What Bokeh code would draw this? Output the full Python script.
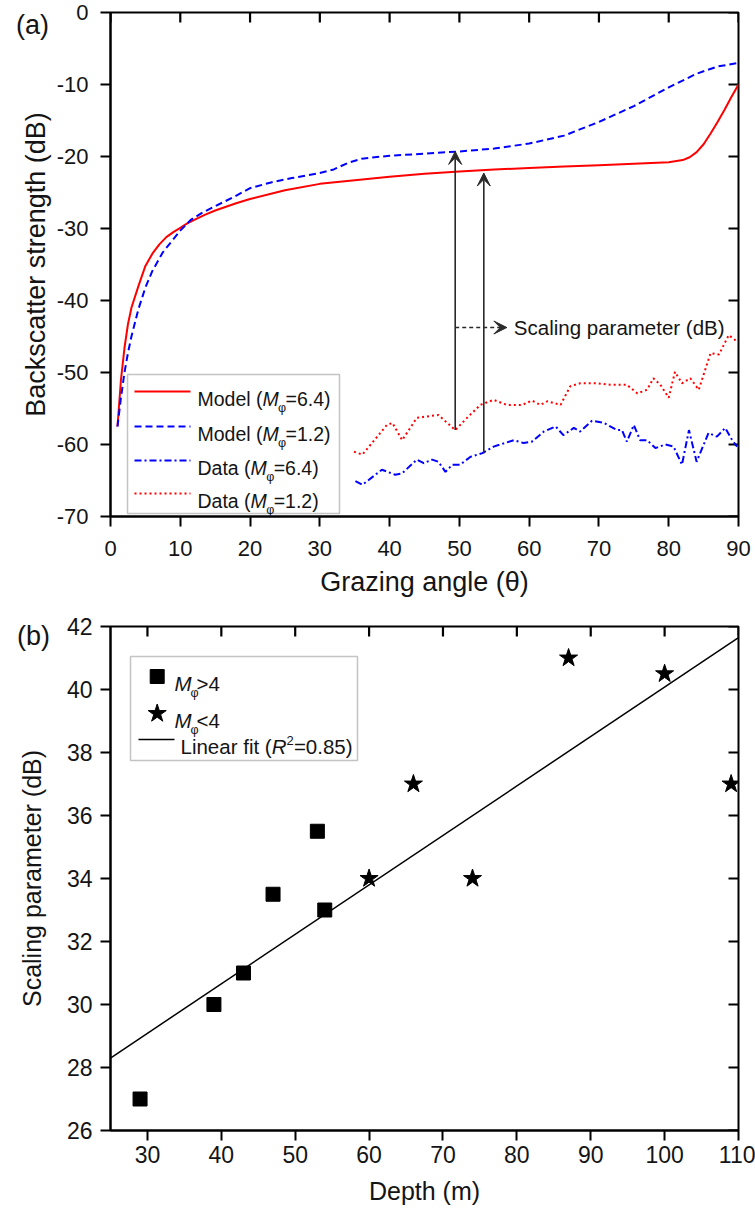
from bokeh.plotting import figure
from bokeh.models import (Range1d, FixedTicker, Label, Arrow, VeeHead,
                          BoxAnnotation, Div)
from bokeh.layouts import column
from bokeh.embed import file_html
from bokeh.resources import INLINE

FONT = "Liberation Sans"
INK = "#141414"

# ------------------------------------------------------------------ data (a)
model_high_angle = [1, 1.5, 2, 2.5, 3, 4, 5, 6, 7, 8, 9, 10, 11, 12, 13.5, 15,
                    18, 20, 25, 30, 35, 40, 45, 50, 55, 60, 65, 70, 75, 80, 82,
                    83, 84, 85, 86, 87, 88, 89, 90]
model_high_db = [-57.5, -51.0, -46.6, -43.3, -41.0, -38.0, -35.2, -33.5, -32.2,
                 -31.2, -30.5, -29.9, -29.3, -28.8, -28.1, -27.5, -26.5, -25.9,
                 -24.7, -23.8, -23.3, -22.8, -22.4, -22.1, -21.8, -21.6, -21.4,
                 -21.2, -21.0, -20.8, -20.5, -20.1, -19.4, -18.3, -16.8, -15.2,
                 -13.5, -11.7, -10.0]

model_low_angle = [1, 1.5, 2, 2.5, 3, 4, 5, 6, 7.5, 10, 11.5, 13, 15, 17.5, 20,
                   23, 26, 30, 32, 34, 36, 40, 45, 50, 55, 60, 65, 70, 75, 80,
                   84, 87, 90]
model_low_db = [-57.5, -53.5, -50.0, -47.3, -45.0, -41.2, -38.2, -35.9, -33.3,
                -30.3, -28.8, -27.9, -26.9, -25.7, -24.4, -23.6, -23.0, -22.3,
                -21.8, -20.9, -20.3, -19.9, -19.6, -19.3, -18.9, -18.2, -17.1,
                -15.2, -13.0, -10.4, -8.5, -7.5, -7.0]

data_high_angle = [35.1, 36.1, 38.9, 40.8, 41.8, 43.9, 44.9, 46.1, 47.0, 48.0,
                   49.0, 50.1, 51.6, 53.3, 54.9, 57.8, 59.2, 60.4, 62.1, 63.8,
                   64.9, 66.4, 67.3, 69.0, 70.7, 72.6, 73.3, 74.0, 75.0, 75.9,
                   76.9, 78.1, 79.5, 80.7, 81.9, 82.9, 84.0, 85.7, 86.9, 88.1,
                   89.1, 89.8]
data_high_db = [-65.1, -65.6, -63.5, -64.2, -64.0, -62.1, -62.6, -62.1, -62.4,
                -63.8, -62.8, -62.8, -61.7, -61.2, -60.3, -59.4, -59.8, -59.6,
                -58.2, -57.5, -58.7, -57.7, -58.2, -56.7, -57.0, -58.0, -58.0,
                -59.6, -57.3, -59.4, -59.4, -60.5, -60.0, -60.3, -62.8, -58.0,
                -62.4, -58.4, -58.9, -57.7, -59.4, -60.3]

data_low_angle = [34.9, 36.1, 39.6, 40.4, 41.8, 43.9, 45.4, 47.0, 49.4, 51.1,
                  53.0, 54.9, 56.8, 59.0, 60.4, 61.6, 62.6, 64.5, 65.9, 67.3,
                  69.7, 71.6, 74.0, 75.5, 76.9, 77.8, 78.8, 80.0, 80.9, 81.9,
                  83.1, 84.3, 86.0, 87.2, 88.6, 89.8]
data_low_db = [-61.0, -61.4, -57.3, -57.0, -59.4, -56.3, -56.1, -55.9, -58.0,
               -56.3, -54.5, -53.8, -54.5, -54.5, -53.9, -54.5, -54.0, -54.5,
               -51.9, -51.5, -51.5, -51.7, -51.7, -52.9, -52.4, -50.8, -51.7,
               -53.5, -49.9, -51.5, -50.8, -52.4, -47.3, -47.5, -44.8, -45.7]

angle_ticks = [0, 10, 20, 30, 40, 50, 60, 70, 80, 90]
angle_tick_labels = ["0", "10", "20", "30", "40", "50", "60", "70", "80", "90"]
db_ticks = [-70, -60, -50, -40, -30, -20, -10, 0]
db_tick_labels = ["-70", "-60", "-50", "-40", "-30", "-20", "-10", "0"]

legend_a_prefix = ["Model (", "Model (", "Data (", "Data ("]
legend_a_suffix = ["=6.4)", "=1.2)", "=6.4)", "=1.2)"]

# scaling-parameter arrows (angle, from dB, to dB)
arrow_angles = [49.4, 53.5]
arrow_from_db = [-58.0, -61.2]
arrow_to_db = [-19.3, -22.3]

# ------------------------------------------------------------------ data (b)
depth_high = [29, 39, 43, 47, 53, 54]
scaling_high = [27, 30, 31, 33.5, 35.5, 33]
depth_low = [60, 66, 74, 87, 100, 109]
scaling_low = [34, 37, 34, 41, 40.5, 37]
fit_depth = [25, 110]
fit_scaling = [28.3, 41.65]

depth_ticks = [30, 40, 50, 60, 70, 80, 90, 100, 110]
depth_tick_labels = ["30", "40", "50", "60", "70", "80", "90", "100", "110"]
scaling_ticks = [26, 28, 30, 32, 34, 36, 38, 40, 42]
scaling_tick_labels = ["26", "28", "30", "32", "34", "36", "38", "40", "42"]

# ------------------------------------------------------------------ helpers
FRAME_W, FRAME_H = 628, 504
TICK_LEN = 10

WIDTH = {'M': .833, 'o': .556, 'd': .556, 'e': .556, 'l': .222, ' ': .278,
         '(': .333, ')': .333, 'D': .722, 'a': .556, 't': .278, '=': .584,
         '.': .278, '>': .584, '<': .584, 'L': .556, 'i': .222, 'n': .556,
         'r': .333, 'f': .278, 'R': .722}


def text_width(s, size):
    return sum(WIDTH.get(c, .556) for c in s) * size


def add_text(p, x, y, s, size, style="normal", align="left",
             baseline="alphabetic", units="screen"):
    p.add_layout(Label(x=x, y=y, x_units=units, y_units=units, text=s,
                       text_font=FONT, text_font_size=f"{size}px",
                       text_font_style=style, text_align=align,
                       text_baseline=baseline, text_color=INK))


def style_plot(p, xt, xl, yt, yl, xlabel, ylabel, tick_fs, lab_fs,
               x_tick_sd, y_tick_sd, x_lab_sd, y_lab_sd):
    p.grid.visible = False
    p.outline_line_color = "black"
    p.outline_line_width = 2
    p.background_fill_color = "white"
    p.border_fill_color = "white"
    for ax, ticks, labels, text, tsd, lsd in (
            (p.xaxis[0], xt, xl, xlabel, x_tick_sd, x_lab_sd),
            (p.yaxis[0], yt, yl, ylabel, y_tick_sd, y_lab_sd)):
        ax.ticker = FixedTicker(ticks=ticks)
        ax.major_label_overrides = {t: l for t, l in zip(ticks, labels)}
        ax.axis_label = text
        ax.axis_label_text_font = FONT
        ax.axis_label_text_font_size = f"{lab_fs}px"
        ax.axis_label_text_font_style = "normal"
        ax.axis_label_text_color = INK
        ax.axis_label_standoff = lsd
        ax.major_label_text_font = FONT
        ax.major_label_text_font_size = f"{tick_fs}px"
        ax.major_label_text_color = INK
        ax.major_label_standoff = tsd
        ax.major_tick_in = 0
        ax.major_tick_out = TICK_LEN
        ax.major_tick_line_width = 2
        ax.major_tick_line_color = "black"
        ax.minor_tick_line_color = None
        ax.axis_line_width = 2
        ax.axis_line_color = "black"
    # mirrored inward ticks on the top and right edges of the frame
    x0, x1 = p.x_range.start, p.x_range.end
    y0, y1 = p.y_range.start, p.y_range.end
    dy = TICK_LEN * (y1 - y0) / FRAME_H
    dx = TICK_LEN * (x1 - x0) / FRAME_W
    p.multi_line(xs=[[float(t), float(t)] for t in xt],
                 ys=[[float(y1), float(y1 - dy)] for _ in xt],
                 line_color="black", line_width=2.2)
    p.multi_line(xs=[[float(x1), float(x1 - dx)] for _ in yt],
                 ys=[[float(t), float(t)] for t in yt],
                 line_color="black", line_width=2.2)


def panel_tag(text, left, top):
    return Div(text=text, styles={"position": "absolute", "left": f"{left}px",
                                  "top": f"{top}px", "font-family": FONT,
                                  "font-size": "27px", "color": INK,
                                  "z-index": "10", "line-height": "1.1"})


# ------------------------------------------------------------------ panel (a)
pa = figure(width=755, height=600, x_range=Range1d(0, 90),
            y_range=Range1d(-70, 0), output_backend="svg",
            toolbar_location=None, tools="",
            min_border_left=110, min_border_right=17, min_border_top=12,
            min_border_bottom=84)
style_plot(pa, angle_ticks, angle_tick_labels, db_ticks, db_tick_labels,
           "Grazing angle (\u03b8)", "Backscatter strength (dB)", 22, 27,
           14, 12, 8, 3)

RED = "#ff0000"
BLUE = "#0000ff"
pa.line(model_high_angle, model_high_db, line_color=RED, line_width=2)
pa.line(model_low_angle, model_low_db, line_color=BLUE, line_width=2,
        line_dash="7 4")
pa.line(data_high_angle, data_high_db, line_color=BLUE, line_width=2,
        line_dash="7 3 2 3")
pa.line(data_low_angle, data_low_db, line_color=RED, line_width=2,
        line_dash="2 3")

ARROW_INK = "#2a2a2a"
for ang, d0, d1 in zip(arrow_angles, arrow_from_db, arrow_to_db):
    pa.add_layout(Arrow(end=VeeHead(size=13, fill_color=ARROW_INK,
                                    line_color=ARROW_INK, line_width=1),
                        x_start=ang, y_start=d0, x_end=ang, y_end=d1,
                        line_color=ARROW_INK, line_width=1.6))

# dashed pointer to the text
pointer_y = -43.75
pa.add_layout(Arrow(end=VeeHead(size=13, fill_color=ARROW_INK,
                                line_color=ARROW_INK, line_width=1),
                    x_start=arrow_angles[0], y_start=pointer_y,
                    x_end=56.8, y_end=pointer_y,
                    line_color=ARROW_INK, line_width=1.5, line_dash="4 3"))
add_text(pa, 57.8, pointer_y, "Scaling parameter (dB)", 20.5,
         baseline="middle", units="data")

# legend (a) - screen offsets from the frame's bottom-left corner
pa.add_layout(BoxAnnotation(left=17, right=229, bottom=3, top=142,
                            left_units="screen", right_units="screen",
                            top_units="screen", bottom_units="screen",
                            fill_color="white", fill_alpha=1,
                            line_color="#3a3a3a", line_width=1.5,
                            level="underlay"))
leg_rows_a = [125, 90, 56, 23]
leg_styles_a = [(RED, "solid"), (BLUE, "7 4"), (BLUE, "7 3 2 3"), (RED, "2 3")]
FS_A = 19.5
for cy, (col, dash), pre, suf in zip(leg_rows_a, leg_styles_a,
                                      legend_a_prefix, legend_a_suffix):
    pa.add_layout(Arrow(start=None, end=None, x_start=24, x_end=80,
                        y_start=cy, y_end=cy, start_units="screen",
                        end_units="screen", line_color=col, line_width=2,
                        line_dash=dash))
    base = cy - 0.36 * FS_A
    x0 = 87
    xm = x0 + text_width(pre, FS_A)
    xs = xm + 0.80 * FS_A
    add_text(pa, x0, base, pre, FS_A)
    add_text(pa, xm, base, "M", FS_A, style="italic")
    add_text(pa, xs, base - 9, "\u03c6", 12.5)
    add_text(pa, xs + 7.5, base, suf, FS_A)

# ------------------------------------------------------------------ panel (b)
pb = figure(width=755, height=611, x_range=Range1d(25, 110),
            y_range=Range1d(26, 42), output_backend="svg",
            toolbar_location=None, tools="",
            min_border_left=110, min_border_right=17, min_border_top=26,
            min_border_bottom=81)
style_plot(pb, depth_ticks, depth_tick_labels, scaling_ticks,
           scaling_tick_labels, "Depth (m)", "Scaling parameter (dB)", 23, 25,
           5, 8, 11, 18)

pb.line(fit_depth, fit_scaling, line_color="black", line_width=1.5)
pb.scatter(depth_high, scaling_high, marker="square", size=14,
           fill_color="black", line_color="black")
pb.scatter(depth_low, scaling_low, marker="star", size=19,
           fill_color="black", line_color="black")

# legend (b)
pb.add_layout(BoxAnnotation(left=20, right=247, bottom=370, top=474,
                            left_units="screen", right_units="screen",
                            top_units="screen", bottom_units="screen",
                            fill_color="white", fill_alpha=1,
                            line_color="#3a3a3a", line_width=1.5,
                            level="underlay"))


def frame_to_data_x(sx):
    return pb.x_range.start + sx / FRAME_W * (pb.x_range.end - pb.x_range.start)


def frame_to_data_y(sy):
    return pb.y_range.start + sy / FRAME_H * (pb.y_range.end - pb.y_range.start)


leg_rows_b = [454, 417, 391]
marker_sx = 46.7
pb.scatter([frame_to_data_x(marker_sx)], [frame_to_data_y(leg_rows_b[0])],
           marker="square", size=14, fill_color="black", line_color="black")
pb.scatter([frame_to_data_x(marker_sx)], [frame_to_data_y(leg_rows_b[1])],
           marker="star", size=19, fill_color="black", line_color="black")
pb.add_layout(Arrow(start=None, end=None, x_start=28, x_end=64,
                    y_start=leg_rows_b[2], y_end=leg_rows_b[2],
                    start_units="screen", end_units="screen",
                    line_color="black", line_width=1.5))

FS_B = 20.5
for cy, rel in zip(leg_rows_b[:2], [">4", "<4"]):
    base = cy - 0.36 * FS_B
    xm = 64
    add_text(pb, xm, base, "M", FS_B, style="italic")
    add_text(pb, xm + 0.78 * FS_B, base - 9, "\u03c6", 12.5)
    add_text(pb, xm + 0.78 * FS_B + 6, base, rel, FS_B)

cy = leg_rows_b[2]
base = cy - 0.36 * FS_B
x0 = 70
pre = "Linear fit ("
xr_ = x0 + text_width(pre, FS_B)
add_text(pb, x0, base, pre, FS_B)
add_text(pb, xr_, base, "R", FS_B, style="italic")
add_text(pb, xr_ + 0.72 * FS_B, base + 6.5, "2", 13)
add_text(pb, xr_ + 0.72 * FS_B + 7.5, base, "=0.85)", FS_B)

# panel tags, placed over the figures' left margins
tag_a = panel_tag("(a)", 11, 6)
tag_b = panel_tag("(b)", 12, 617)

layout = column(pa, pb, tag_a, tag_b)
open("out.html", "w").write(file_html(layout, INLINE))
